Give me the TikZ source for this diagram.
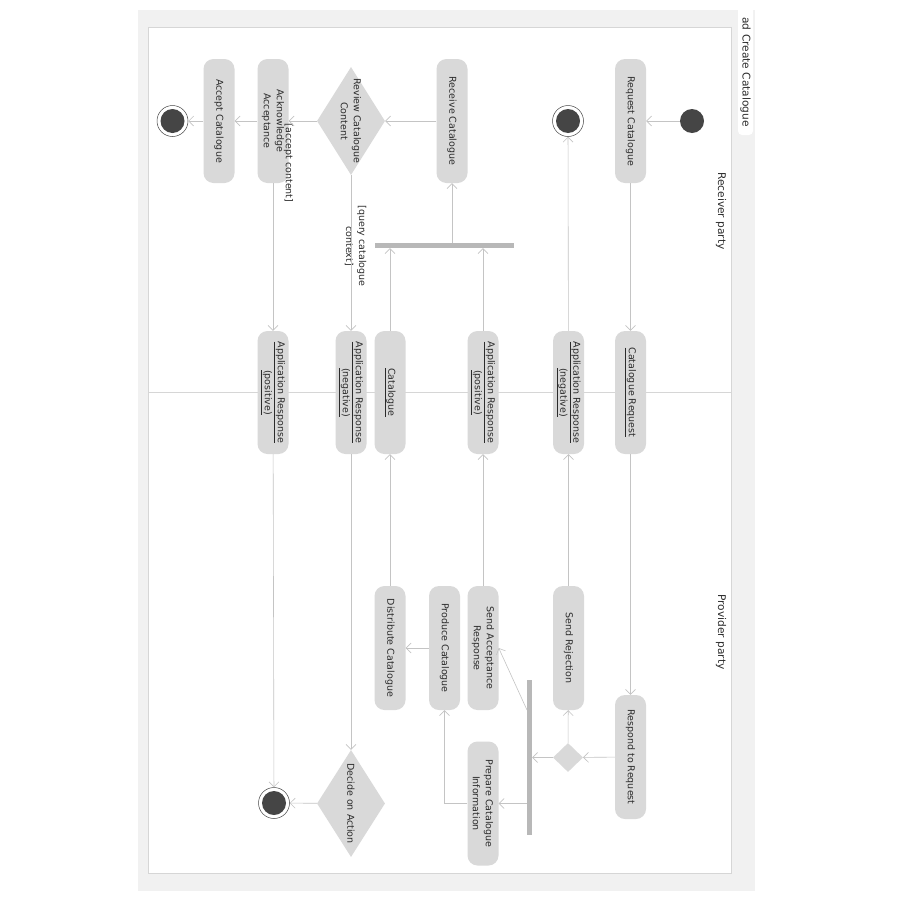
\documentclass[tikz,border=0pt]{standalone}
\usepackage{fontspec}
\setmainfont{DejaVu Sans}
\usetikzlibrary{shapes.geometric,arrows.meta}
\definecolor{frame}{HTML}{F1F1F1}
\definecolor{rim}{HTML}{D6D6D6}
\definecolor{actfill}{HTML}{D9D9D9}
\definecolor{flowline}{HTML}{C4C4C4}
\definecolor{barfill}{HTML}{B8B8B8}
\definecolor{dot}{HTML}{454545}
\definecolor{ink}{HTML}{2B2B2B}

\begin{document}
\begin{tikzpicture}[x=1pt,y=-1pt,
    every node/.style={text=ink,font=\fontsize{9.5}{13}\selectfont},
    act/.style={fill=actfill,rounded corners=10pt,rotate=-90,minimum width=124pt,minimum height=31pt,inner sep=0pt,align=center},
    obj/.style={act,minimum width=123pt},
    dec/.style={diamond,fill=actfill,rotate=-90,aspect=1.6,inner sep=-4pt,align=center},
    bar/.style={fill=barfill,inner sep=0pt},
    start/.style={circle,fill=dot,minimum size=24pt,inner sep=0pt},
    final/.style={circle,draw=dot,line width=0.5pt,fill=white,minimum size=31pt,inner sep=0pt,
        path picture={\fill[dot] (path picture bounding box.center) circle (12pt);}},
    lane/.style={rotate=-90,font=\fontsize{10.6}{13}\selectfont},
    guard/.style={rotate=-90,align=center,inner sep=1pt},
    flow/.style={draw=flowline,line width=0.6pt,-{Straight Barb[length=5pt,width=10pt]}}]
        \useasboundingbox (0,0) rectangle (900,900);
        \fill[frame] (138,10) rectangle (755,891); % marco
        \fill[white,rounded corners=4pt] (738,4) rectangle (753,135);
        \draw[rim,fill=white] (148,27) rectangle (731,873);
        \draw[rim] (148,392) -- (731,392); % calles
        \node[lane,font=\fontsize{10.6}{13}\selectfont] (title) at (745.5,72) {ad Create Catalogue};
        \node[lane] (recv) at (721,211) {Receiver party};
        \node[lane] (prov) at (721,632) {Provider party};
        % receptor
        \node[start] (init) at (692,121) {};
        \node[act] (reqcat) at (630.5,121) {Request Catalogue};
        \node[final] (endA) at (568,121) {};
        \node[act] (recvcat) at (452,121) {Receive Catalogue};
        \node[dec,minimum width=108pt,minimum height=68pt] (review) at (351,121) {Review Catalogue\\Content};
        \node[act] (ackacc) at (273,121) {Acknowledge\\Acceptance};
        \node[act] (acccat) at (219,121) {Accept Catalogue};
        \node[final] (endB) at (172.5,121) {};
        \node[bar,minimum width=139pt,minimum height=5pt] (forkA) at (444.5,245.5) {};
        \node[guard] (gacc) at (288.5,163) {[accept content]};
        \node[guard,fill=white] (gquery) at (355.5,246) {[query catalogue\\context]};
        % objetos
        \node[obj] (apPosA) at (273,392.5) {\underline{Application Response}\\\underline{(positive)}};
        \node[obj] (apNegA) at (351,392.5) {\underline{Application Response}\\\underline{(negative)}};
        \node[obj] (cat) at (390,392.5) {\underline{Catalogue}};
        \node[obj] (apPosB) at (483,392.5) {\underline{Application Response}\\\underline{(positive)}};
        \node[obj] (apNegB) at (568.5,392.5) {\underline{Application Response}\\\underline{(negative)}};
        \node[obj] (catreq) at (630.5,392.5) {\underline{Catalogue Request}};
        % proveedor
        \node[act] (distcat) at (390,648) {Distribute Catalogue};
        \node[act] (prodcat) at (444.5,648) {Produce Catalogue};
        \node[act] (sendacc) at (483,648) {Send Acceptance\\Response};
        \node[act] (sendrej) at (568.5,648) {Send Rejection};
        \node[act] (respond) at (630.5,757) {Respond to Request};
        \node[diamond,fill=actfill,aspect=1,minimum width=30pt,minimum height=29pt,inner sep=0pt] (choice) at (568,757.5) {};
        \node[bar,minimum width=5pt,minimum height=155pt] (forkB) at (529.5,757.5) {};
        \node[act] (prepcat) at (483,803.5) {Prepare Catalogue\\Information};
        \node[dec,minimum width=107pt,minimum height=68pt] (decide) at (351,803.5) {Decide on Action};
        \node[final] (endC) at (274,803) {};
        \coordinate (fb) at (527,710);
        % flujos
        \draw[flow] (init) -- (reqcat);
        \draw[flow] (reqcat) -- (catreq);
        \draw[flow] (catreq) -- (respond);
        \draw[flow] (respond) -- (choice);
        \draw[flow] (choice) -- (sendrej);
        \draw[flow] (choice) -- (forkB);
        \draw[flow] (fb) -- (sendacc.north);
        \draw[flow] (forkB.west |- prepcat) -- (prepcat);
        \draw[flow] (prepcat) -| (prodcat);
        \draw[flow] (prodcat) -- (distcat);
        \draw[flow] (distcat) -- (cat);
        \draw[flow] (sendacc) -- (apPosB);
        \draw[flow] (sendrej) -- (apNegB);
        \draw[flow] (apNegB) -- (endA);
        \draw[flow] (apPosB) -- (apPosB |- forkA.south);
        \draw[flow] (cat) -- (cat |- forkA.south);
        \draw[flow] (forkA.north -| recvcat) -- (recvcat);
        \draw[flow] (recvcat) -- (review);
        \draw[flow] (review) -- (ackacc);
        \draw[flow] (review) -- (apNegA);
        \draw[flow] (ackacc) -- (acccat);
        \draw[flow] (acccat) -- (endB);
        \draw[flow] (ackacc) -- (apPosA);
        \draw[flow] (apPosA) -- (endC);
        \draw[flow] (apNegA) -- (decide);
        \draw[flow] (decide) -- (endC);
\end{tikzpicture}
\end{document}
